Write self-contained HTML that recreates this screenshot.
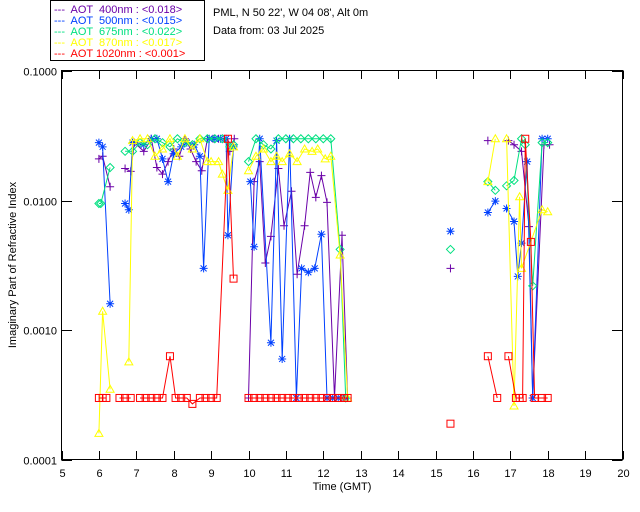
<!DOCTYPE html>
<html><head><meta charset="utf-8">
<style>
html,body{margin:0;padding:0;background:#fff;}
svg{display:block;font-family:"Liberation Sans",sans-serif;}
</style></head>
<body>
<svg id="chart" width="640" height="512" viewBox="0 0 640 512">
  <rect x="0" y="0" width="640" height="512" fill="#fff"/>
  <g>
    <rect x="50.5" y="0.5" width="154" height="60" fill="none" stroke="#000" stroke-width="1"/>
    <text x="54" y="13" font-size="11" fill="#6a00a8" xml:space="preserve">---  AOT  400nm : &lt;0.018&gt;</text>
    <text x="54" y="24" font-size="11" fill="#0040ff" xml:space="preserve">---  AOT  500nm : &lt;0.015&gt;</text>
    <text x="54" y="35" font-size="11" fill="#00e080" xml:space="preserve">---  AOT  675nm : &lt;0.022&gt;</text>
    <text x="54" y="46" font-size="11" fill="#ffff00" xml:space="preserve">---  AOT  870nm : &lt;0.017&gt;</text>
    <text x="54" y="57" font-size="11" fill="#ff0000" xml:space="preserve">---  AOT 1020nm : &lt;0.001&gt;</text>
  </g>
  <text x="213" y="16" font-size="11" fill="#000">PML, N 50 22', W 04 08', Alt 0m</text>
  <text x="213" y="34" font-size="11" fill="#000">Data from: 03 Jul 2025</text>
  <rect x="61.5" y="70.5" width="561" height="389" fill="none" stroke="#000" stroke-width="1"/>
  <g id="axes"></g>
  <g id="series"></g>
  <text x="342" y="490" font-size="11" text-anchor="middle" fill="#000">Time (GMT)</text>
  <text transform="translate(16,265) rotate(-90)" font-size="11" text-anchor="middle" fill="#000">Imaginary Part of Refractive Index</text>
</svg>
<script>
const xTicks = [5,6,7,8,9,10,11,12,13,14,15,16,17,18,19,20];
const yTicks = [0.1,0.01,0.001,0.0001];
const yTickLabels = ["0.1000","0.0100","0.0010","0.0001"];
const seriesNames = ["aot-400","aot-500","aot-675","aot-870","aot-1020"];

const t400 = [6.0,6.1,6.3,null,6.7,6.85,6.95,7.2,7.4,7.55,7.7,7.85,8.0,8.15,8.3,8.45,8.6,8.75,8.9,9.05,9.2,9.35,9.5,9.62,null,10.0,10.15,10.3,10.45,10.6,10.8,10.95,11.15,11.3,11.5,11.65,11.8,11.95,12.1,12.3,12.5,12.65,null,15.4,null,16.4,null,16.95,17.1,17.3,17.5,17.6,17.9,18.05];
const v400 = [0.021,0.022,0.0128,null,0.0177,0.0168,0.028,0.024,0.03,0.018,0.016,0.02,0.025,0.022,0.03,0.025,0.02,0.017,0.03,0.03,0.03,0.03,0.024,0.03,null,0.0003,0.014,0.02,0.0033,0.0053,0.0177,0.0064,0.0118,0.0027,0.0064,0.0165,0.0106,0.0156,0.0097,0.0003,0.0054,0.0003,null,0.003,null,0.029,null,0.029,0.027,0.024,0.0063,0.0003,0.027,0.027];

const t500 = [6.0,6.1,6.3,null,6.7,6.8,6.9,7.2,7.4,7.55,7.7,7.85,8.0,8.2,8.35,8.55,8.7,8.8,8.95,9.1,9.25,9.4,9.45,9.6,null,10.05,10.15,10.3,10.6,10.75,10.9,11.1,11.28,11.42,11.6,11.77,11.95,12.1,12.25,12.4,12.6,null,15.4,null,16.4,16.6,null,16.9,17.1,17.2,17.3,17.45,17.6,17.85,18.0];
const v500 = [0.028,0.026,0.0016,null,0.0095,0.0085,0.028,0.027,0.03,0.03,0.021,0.014,0.023,0.026,0.028,0.027,0.022,0.003,0.03,0.03,0.03,0.03,0.0054,0.026,null,0.014,0.0044,0.03,0.0008,0.029,0.0006,0.03,0.0003,0.003,0.0028,0.003,0.0055,0.0003,0.0003,0.0003,0.0003,null,0.0058,null,0.0081,0.0099,null,0.0087,0.0069,0.0026,0.0047,0.02,0.0003,0.03,0.03];

const t675 = [6.0,6.05,6.3,null,6.7,6.9,7.1,7.3,7.5,7.7,7.9,8.1,8.3,8.5,8.7,8.9,9.1,9.3,9.5,9.6,null,10.0,10.2,10.4,10.6,10.8,11.0,11.2,11.4,11.6,11.8,12.0,12.2,12.45,12.6,null,15.4,null,16.4,16.6,null,16.9,17.1,17.3,17.4,17.6,17.85,18.0];
const v675 = [0.0095,0.0095,0.018,null,0.024,0.024,0.028,0.027,0.03,0.028,0.026,0.03,0.028,0.027,0.03,0.03,0.03,0.03,0.026,0.027,null,0.02,0.03,0.027,0.025,0.03,0.03,0.03,0.03,0.03,0.03,0.03,0.03,0.0042,0.0003,null,0.0042,null,0.014,0.012,null,0.013,0.0143,0.03,0.027,0.0022,0.028,0.028];

const t870 = [6.0,6.1,6.3,null,6.8,6.9,7.1,7.3,7.5,7.7,7.9,8.1,8.3,8.5,8.7,8.9,9.0,9.2,9.3,9.45,9.6,null,10.0,10.2,10.4,10.6,10.75,10.9,11.1,11.3,11.5,11.7,11.85,12.05,12.2,12.45,12.65,null,16.4,16.6,null,16.9,17.1,17.25,17.3,17.85,18.0];
const v870 = [0.00016,0.0014,0.00035,null,0.00057,0.029,0.03,0.03,0.022,0.025,0.03,0.022,0.03,0.025,0.03,0.02,0.02,0.02,0.016,0.012,0.026,null,0.017,0.022,0.025,0.02,0.022,0.02,0.023,0.02,0.025,0.024,0.025,0.021,0.022,0.0038,0.0003,null,0.014,0.03,null,0.03,0.00026,0.0107,0.003,0.0085,0.0082];

const t1020 = [6.0,6.1,6.2,null,6.55,6.7,6.85,null,7.1,7.25,7.4,7.55,7.7,7.9,8.05,8.2,8.35,8.5,8.7,8.85,9.0,9.15,9.45,9.6,null,10.0,10.15,10.3,10.45,10.6,10.75,10.9,11.05,11.2,11.35,11.5,11.65,11.8,11.95,12.1,12.25,12.4,12.55,12.65,null,15.4,null,16.4,16.65,null,16.95,17.15,17.25,17.33,17.4,17.55,17.65,17.85,18.0];
const v1020 = [0.0003,0.0003,0.0003,null,0.0003,0.0003,0.0003,null,0.0003,0.0003,0.0003,0.0003,0.0003,0.00063,0.0003,0.0003,0.0003,0.00027,0.0003,0.0003,0.0003,0.0003,0.03,0.0025,null,0.0003,0.0003,0.0003,0.0003,0.0003,0.0003,0.0003,0.0003,0.0003,0.0003,0.0003,0.0003,0.0003,0.0003,0.0003,0.0003,0.0003,0.0003,0.0003,null,0.00019,null,0.00063,0.0003,null,0.00063,0.0003,0.0003,0.0003,0.03,0.0048,0.0003,0.0003,0.0003];

const NS = "http://www.w3.org/2000/svg";
const X0 = 61.5, X1 = 622.5, Y0 = 71, DEC = 129.6;
function xs(t){ return X0 + (t - 5) / 15 * (X1 - X0); }
function ys(v){ return Y0 + (-1 - Math.log10(v)) * DEC; }
function mk(tag, attrs, parent){ const e = document.createElementNS(NS, tag); for (const k in attrs) e.setAttribute(k, attrs[k]); parent.appendChild(e); return e; }

const axes = document.getElementById("axes");
xTicks.forEach((t, i) => {
  const x = Math.round(xs(t)) + 0.5;
  const a = mk("line", {x1:x, y1:459.5, x2:x, y2:451, stroke:"#000"}, axes);
  
  
  const b = mk("line", {x1:x, y1:70.5, x2:x, y2:79, stroke:"#000"}, axes);
  
  
  const l = mk("text", {x:x, y:477, "font-size":11, "text-anchor":"middle", fill:"#000"}, axes);
  l.textContent = String(t);
  
  
});
yTicks.forEach((v, i) => {
  const y = Math.round(ys(v)) + 0.5;
  const a = mk("line", {x1:61.5, y1:y, x2:72, y2:y, stroke:"#000"}, axes);
  
  
  const b = mk("line", {x1:622.5, y1:y, x2:612, y2:y, stroke:"#000"}, axes);
  
  
  const l = mk("text", {x:57, y:y+4, "font-size":11, "text-anchor":"end", fill:"#000"}, axes);
  l.textContent = yTickLabels[i];
  
  
});

const sg = document.getElementById("series");
const allT = [t400, t500, t675, t870, t1020];
const allV = [v400, v500, v675, v870, v1020];
const colors = ["#6a00a8","#0040ff","#00e080","#ffff00","#ff0000"];
const markers = ["plus","star","diamond","triangle","square"];

function marker(type, x, y, c, g){
  let e;
  if (type === "plus") e = mk("path", {d:`M${x-4} ${y}H${x+4}M${x} ${y-4}V${y+4}`, stroke:c, fill:"none"}, g);
  else if (type === "star") e = mk("path", {d:`M${x-4} ${y}H${x+4}M${x} ${y-4}V${y+4}M${x-3} ${y-3}L${x+3} ${y+3}M${x-3} ${y+3}L${x+3} ${y-3}`, stroke:c, fill:"none"}, g);
  else if (type === "diamond") e = mk("path", {d:`M${x} ${y-4}L${x+4} ${y}L${x} ${y+4}L${x-4} ${y}Z`, stroke:c, fill:"none"}, g);
  else if (type === "triangle") e = mk("path", {d:`M${x} ${y-4}L${x+4} ${y+3}L${x-4} ${y+3}Z`, stroke:c, fill:"none"}, g);
  else e = mk("rect", {x:x-3.5, y:y-3.5, width:7, height:7, stroke:c, fill:"none"}, g);
  
  
}

allT.forEach((ts, si) => {
  const vs = allV[si], c = colors[si];
  const g = mk("g", {}, sg);
  
  
  let d = "", pen = false;
  for (let i = 0; i < ts.length; i++) {
    if (ts[i] === null || vs[i] === null) { pen = false; continue; }
    d += (pen ? "L" : "M") + xs(ts[i]).toFixed(1) + " " + ys(vs[i]).toFixed(1);
    pen = true;
  }
  const p = mk("path", {d:d, stroke:c, fill:"none", "stroke-width":1}, g);
  
  
  for (let i = 0; i < ts.length; i++) {
    if (ts[i] === null || vs[i] === null) continue;
    marker(markers[si], xs(ts[i]), ys(vs[i]), c, g);
  }
});
</script>
</body></html>
